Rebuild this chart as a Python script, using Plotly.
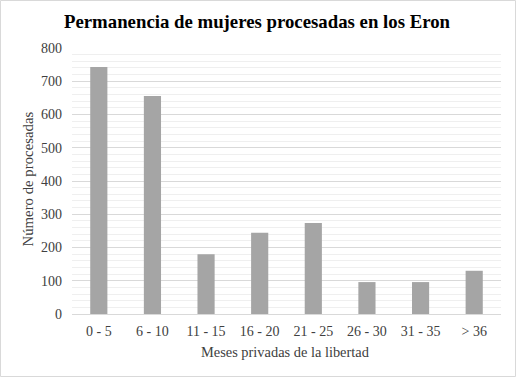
import plotly.graph_objects as go

categories = ["0 - 5", "6 - 10", "11 - 15", "16 - 20", "21 - 25", "26 - 30", "31 - 35", "> 36"]
values = [743, 656, 180, 244, 274, 96, 96, 130]
y_ticks = [0, 100, 200, 300, 400, 500, 600, 700, 800]

W, H = 516, 377
ml, mr, mt, mb = 72, 15, 48, 63
pw, ph = W - ml - mr, H - mt - mb

font = "Liberation Serif, Times New Roman, serif"
txt = "#404040"

fig = go.Figure(go.Bar(x=categories, y=values, marker_color="#a5a5a5", marker_line_width=0))

fig.update_layout(
    width=W, height=H,
    margin=dict(l=ml, r=mr, t=mt, b=mb, autoexpand=False),
    paper_bgcolor="white", plot_bgcolor="white",
    bargap=0.68,
    showlegend=False,
    font=dict(family=font, size=14, color=txt),
    title=dict(text="<b>Permanencia de mujeres procesadas en los Eron</b>",
               x=257 / W, xanchor="center", y=1 - 21 / H, yanchor="middle",
               font=dict(family=font, size=18.8, color="black")),
    shapes=[dict(type="rect", xref="paper", yref="paper",
                 x0=-(ml - 0.5) / pw, x1=1 + (mr - 0.5) / pw,
                 y0=-(mb - 0.5) / ph, y1=1 + (mt - 0.5) / ph,
                 line=dict(color="#d9d9d9", width=1), layer="below")],
    annotations=[
        dict(text="Número de procesadas", xref="paper", yref="paper",
             x=-(ml - 27) / pw, y=1 - (179.5 - mt) / ph, textangle=-90, showarrow=False,
             xanchor="center", yanchor="middle", font=dict(size=14.8, color=txt)),
        dict(text="Meses privadas de la libertad", xref="paper", yref="paper",
             x=(285 - ml) / pw, y=-(352 - mt - ph) / ph, showarrow=False,
             xanchor="center", yanchor="middle", font=dict(size=14.4, color=txt)),
    ],
)
fig.update_yaxes(range=[0, 800], tickvals=y_ticks, showgrid=True, gridcolor="#d9d9d9", gridwidth=1,
                 minor=dict(dtick=20, showgrid=True, gridcolor="#efefef", gridwidth=1),
                 zeroline=False, showline=False, ticks="", automargin=False,
                 ticklabelstandoff=9, tickfont=dict(size=14))
fig.update_xaxes(showline=True, linecolor="#d9d9d9", linewidth=1, ticks="", automargin=False,
                 ticklabelstandoff=4, tickfont=dict(size=14))

fig.write_html("out.html", config={"displayModeBar": False},
               post_script="document.body.style.margin='0';")
